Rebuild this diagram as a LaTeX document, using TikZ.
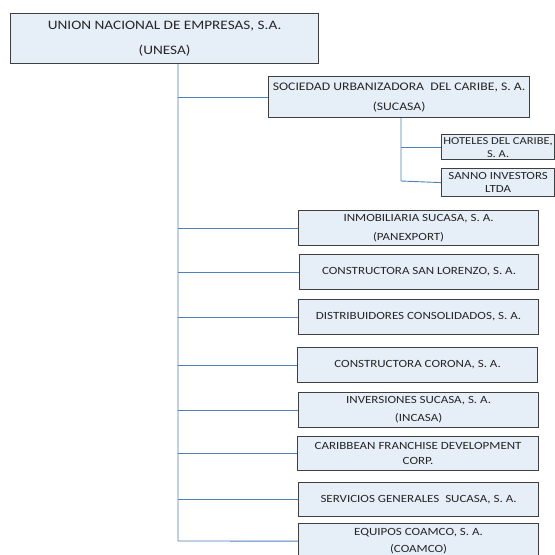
\documentclass[tikz,border=0pt]{standalone}
\usepackage{fontspec}
\setmainfont{Carlito}[FakeStretch=1.18]
\definecolor{boxfill}{HTML}{E6EEF8}
\definecolor{boxline}{HTML}{3F3F3F}
\definecolor{connc}{HTML}{4F81BD}
\tikzset{
  orgbox/.style={draw=boxline, line width=1.2pt, fill=boxfill, align=center, inner sep=0pt, anchor=north west, text=black!85},
  mainfont/.style={font=\fontsize{11}{19}\selectfont},
  conn/.style={draw=connc, line width=0.9pt}
}
\begin{document}
\begin{tikzpicture}[x=1pt,y=-1pt]
\useasboundingbox (0,0) rectangle (555,555);
\fill[white] (0,0) rectangle (555,555);
\clip (0,0) rectangle (555,555);
% boxes
\node[orgbox, minimum width=308pt, minimum height=50pt, font=\fontsize{12.9}{25}\selectfont] (top) at (10,13) {UNION NACIONAL DE EMPRESAS, S.A.\\(UNESA)};
\node[orgbox, minimum width=261pt, minimum height=41pt, font=\fontsize{11.6}{20}\selectfont] (sucasa) at (268,76) {SOCIEDAD URBANIZADORA\ \ DEL CARIBE, S. A.\\(SUCASA)};
\node[orgbox, minimum width=113pt, minimum height=25pt, font=\fontsize{10.6}{13}\selectfont] (hoteles) at (441,134) {HOTELES DEL CARIBE,\\S. A.};
\node[orgbox, minimum width=113pt, minimum height=28pt, font=\fontsize{10.9}{13}\selectfont] (sanno) at (441,168) {SANNO INVESTORS\\LTDA};
\node[orgbox, mainfont, minimum width=240pt, minimum height=35pt] (inmob) at (298,210) {INMOBILIARIA SUCASA, S. A.\\(PANEXPORT)\hspace*{20pt}};
\node[orgbox, mainfont, minimum width=239pt, minimum height=35pt] (lorenzo) at (299,254) {CONSTRUCTORA SAN LORENZO, S. A.};
\node[orgbox, mainfont, minimum width=240pt, minimum height=35pt] (distrib) at (298,299) {DISTRIBUIDORES CONSOLIDADOS, S. A.};
\node[orgbox, mainfont, minimum width=240pt, minimum height=35pt] (corona) at (297,347) {CONSTRUCTORA CORONA, S. A.};
\node[orgbox, minimum width=240pt, minimum height=35pt, font=\fontsize{11}{18}\selectfont] (inversiones) at (298,392) {INVERSIONES SUCASA, S. A.\\(INCASA)};
\node[orgbox, minimum width=241pt, minimum height=34pt, font=\fontsize{11}{15}\selectfont] (caribbean) at (297,436) {CARIBBEAN FRANCHISE DEVELOPMENT\\CORP.};
\node[orgbox, mainfont, minimum width=240pt, minimum height=34pt] (servicios) at (298,482) {SERVICIOS GENERALES\ \ SUCASA, S. A.};
\node[orgbox, minimum width=240pt, minimum height=35pt, font=\fontsize{11}{17}\selectfont] (equipos) at (298,523) {EQUIPOS COAMCO, S. A.\\(COAMCO)};
% trunk
\coordinate (tk) at (178,541);
\draw[conn] (top.south -| tk) -- (tk) -- (equipos.west);
\foreach \n in {sucasa,inmob,lorenzo,distrib,corona,inversiones,caribbean,servicios}
  \draw[conn] (\n.west -| tk) -- (\n.west);
% sub trunk
\coordinate (stk) at (401,181);
\draw[conn] (sucasa.south -| stk) -- (stk) -- (sanno.west);
\draw[conn] (hoteles.west -| stk) -- (hoteles.west);
\end{tikzpicture}
\end{document}
